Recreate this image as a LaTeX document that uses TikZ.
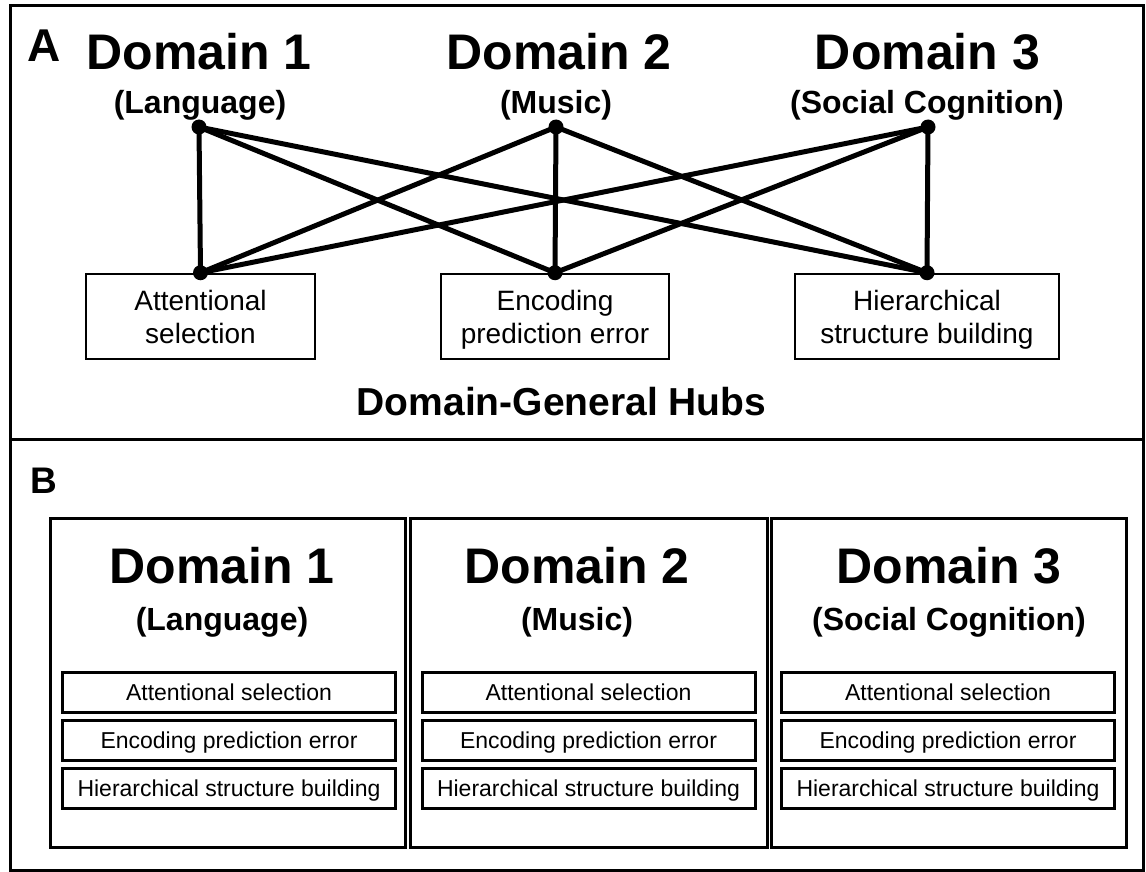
\documentclass[tikz,border=0pt]{standalone}
\usepackage{fontspec}
\setmainfont{Liberation Sans}
% last line of a two-line hub label, with its descenders kept out of the box depth
\newcommand{\lastline}[1]{\raisebox{0pt}[\height][0pt]{#1}}
\begin{document}
\begin{tikzpicture}[x=1pt,y=-1pt,
  frame/.style={draw, line width=3pt},
  panellabel/.style={anchor=base west, inner sep=0pt, font=\bfseries\fontsize{#1}{#1}\selectfont},
  domtitle/.style={anchor=base, inner sep=0pt, font=\bfseries\fontsize{50}{56}\selectfont},
  domsub/.style={anchor=base, inner sep=0pt, font=\bfseries\fontsize{32}{36}\selectfont},
  hubbox/.style={draw, line width=2.5pt, minimum width=#1, minimum height=85pt,
    inner sep=0pt, align=center, font=\fontsize{28}{33}\selectfont},
  hubdot/.style={circle, fill=black, inner sep=0pt, minimum size=15pt},
  link/.style={line width=5pt},
  domainbox/.style={draw, line width=3pt, minimum width=#1, minimum height=329pt, inner sep=0pt},
  procbox/.style={draw, line width=3pt, minimum width=333pt, minimum height=40pt,
    inner sep=0pt, text height=16.5pt, text depth=0pt, font=\fontsize{23}{26}\selectfont}
]
\useasboundingbox (0,0) rectangle (1146,872);

% outer frame and the rule between the two panels
\draw[frame] (10,6) rectangle (1143,870);
\draw[frame] (10,439) -- (1143,439);

% ---------- Panel A ----------
\node[panellabel=46] (labA) at (27,62) {A};

\node[domtitle] (a1) at (199,70) {Domain 1};
\node[domtitle] (a2) at (559,70) {Domain 2};
\node[domtitle] (a3) at (927.5,70) {Domain 3};
\node[domsub] (a1s) at (200,114) {(Language)};
\node[domsub] (a2s) at (556,114) {(Music)};
\node[domsub] (a3s) at (927,114) {(Social Cognition)};

\node[hubbox=229pt] (h1) at (200.5,316.5) {Attentional\\\lastline{selection}};
\node[hubbox=228pt] (h2) at (555,316.5) {Encoding\\\lastline{prediction error}};
\node[hubbox=264pt] (h3) at (927,316.5) {Hierarchical\\\lastline{structure building}};

\node[hubdot] (t1) at (199,127) {};
\node[hubdot] (t2) at (556,127) {};
\node[hubdot] (t3) at (928,127) {};
\node[hubdot] (b1) at (h1.north) {};
\node[hubdot] (b2) at (h2.north) {};
\node[hubdot] (b3) at (h3.north) {};

% every domain is linked to every hub
\foreach \t in {t1,t2,t3}
  \foreach \b in {b1,b2,b3}
    \draw[link] (\t.center) -- (\b.center);

\node[anchor=base, inner sep=0pt, font=\bfseries\fontsize{39}{44}\selectfont] (hubs) at (561.5,415) {Domain-General Hubs};

% ---------- Panel B ----------
\node[panellabel=37] (labB) at (30,493) {B};

\node[domainbox=355pt] (p1) at (227.5,682.5) {};
\node[domainbox=357pt] (p2) at (588.5,682.5) {};
\node[domainbox=355pt] (p3) at (948.5,682.5) {};

\node[domtitle] (p1t) at (222,583) {Domain 1};
\node[domtitle] (p2t) at (577,583) {Domain 2};
\node[domtitle] (p3t) at (949,583) {Domain 3};
\node[domsub] (p1s) at (222,630) {(Language)};
\node[domsub] (p2s) at (577,630) {(Music)};
\node[domsub] (p3s) at (949,630) {(Social Cognition)};

\foreach \i/\x in {1/229,2/588.5,3/948}{
  \node[procbox] (q\i a) at (\x,692) {Attentional selection};
  \node[procbox] (q\i b) at (\x,740) {Encoding prediction error};
  \node[procbox] (q\i c) at (\x,788.5) {Hierarchical structure building};
}
\end{tikzpicture}
\end{document}
